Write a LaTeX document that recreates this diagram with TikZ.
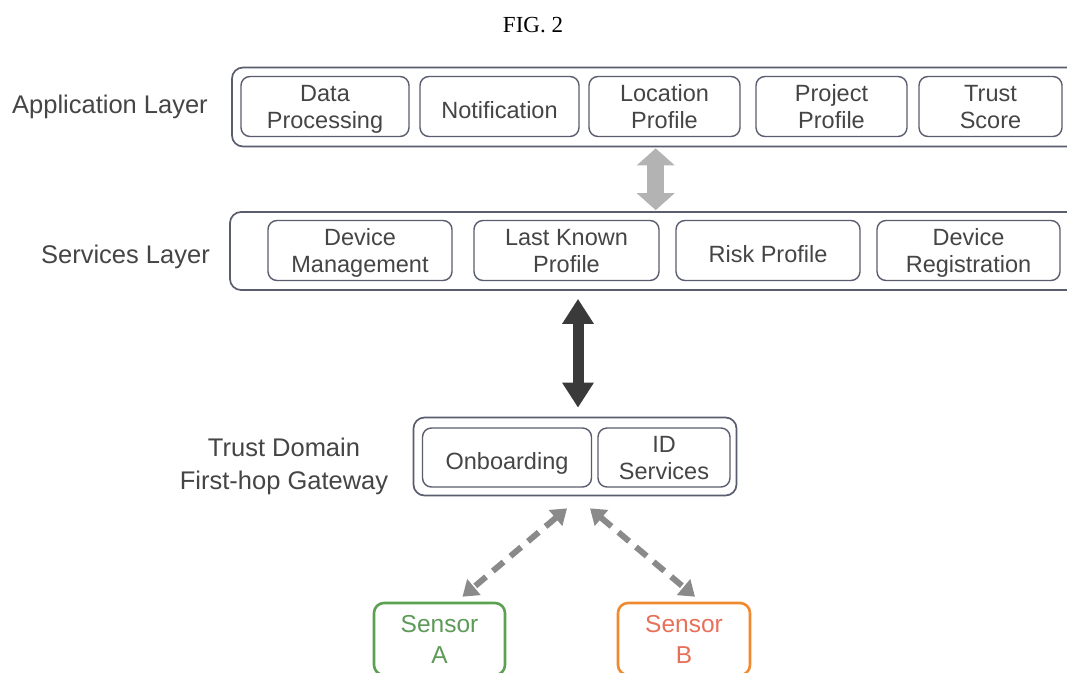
\documentclass[tikz,border=0pt]{standalone}
\usepackage{fontspec}
\setmainfont{Liberation Sans}
\newfontfamily\figfont{Liberation Serif}
\usetikzlibrary{arrows.meta,calc}
\definecolor{txt}{HTML}{454545}
\definecolor{bd}{HTML}{5A5D6E}
\definecolor{lightarr}{HTML}{B3B3B3}
\definecolor{darkarr}{HTML}{3A3A3A}
\definecolor{dasharr}{HTML}{8A8A8A}
\definecolor{sgreen}{HTML}{5CA052}
\definecolor{sgreentxt}{HTML}{5E9A58}
\definecolor{sorange}{HTML}{F08A30}
\definecolor{sorangetxt}{HTML}{E8705A}
\newcommand\twol[2]{\rule{0pt}{22pt}#1\\#2\rule[-6pt]{0pt}{6pt}}
\newcommand\onel[1]{\rule{0pt}{29pt}#1\rule[-6pt]{0pt}{6pt}}
\begin{document}
\begin{tikzpicture}[x=1pt,y=-1pt,
  innerbox/.style={draw=bd, line width=1.4pt, rounded corners=9pt, text=txt, align=center,
    font=\fontsize{23.5}{27}\selectfont, inner sep=0pt, minimum height=60pt},
  outerbox/.style={draw=bd, line width=1.7pt, rounded corners=11pt, inner sep=0pt},
  lab/.style={text=txt, font=\fontsize{25.5}{33.3}\selectfont, align=center, inner sep=0pt},
  sensorbox/.style={line width=2.6pt, rounded corners=10pt, align=center,
    font=\fontsize{24.5}{31}\selectfont, inner sep=0pt, minimum width=#1, minimum height=72pt}
]
\useasboundingbox (0,0) rectangle (1067,672);
\fill[white] (0,0) rectangle (1067,672);
\begin{scope}
\clip (0,0) rectangle (1067,672);

\node[font=\figfont\fontsize{23}{26}\selectfont, text=black] (fig) at (533,25) {FIG. 2};

% Application layer
\node[outerbox, minimum width=848pt, minimum height=79pt] (app) at (656,107) {};
\node[innerbox, minimum width=168pt] (dp) at (325,106.5) {\twol{Data}{Processing}};
\node[innerbox, minimum width=159pt] (nt) at (499.5,106.5) {\onel{Notification}};
\node[innerbox, minimum width=151pt] (lp) at (664.5,106.5) {\twol{Location}{Profile}};
\node[innerbox, minimum width=151pt] (pp) at (831.5,106.5) {\twol{Project}{Profile}};
\node[innerbox, minimum width=143pt] (ts) at (990.5,106.5) {\twol{Trust}{Score}};
\node[lab, anchor=east] (applab) at (208,107) {Application Layer};

% Services layer
\node[outerbox, minimum width=850pt, minimum height=78pt] (svc) at (655,251) {};
\node[innerbox, minimum width=184pt] (dm) at (360,250.5) {\twol{Device}{Management}};
\node[innerbox, minimum width=185pt] (lk) at (566.5,250.5) {\twol{Last Known}{Profile}};
\node[innerbox, minimum width=184pt] (rp) at (768,250.5) {\onel{Risk Profile}};
\node[innerbox, minimum width=183pt] (dr) at (968.5,250.5) {\twol{Device}{Registration}};
\node[lab, anchor=east] (svclab) at (210,257) {Services Layer};

% Trust domain
\node[outerbox, minimum width=323pt, minimum height=78pt] (td) at (575,456.5) {};
\node[innerbox, minimum height=59pt, minimum width=169pt] (ob) at (507,457.5) {\onel{Onboarding}};
\node[innerbox, minimum height=59pt, minimum width=132pt] (ids) at (664,457.5) {\twol{ID}{Services}};
\node[lab] (tdlab) at (284,466.5) {Trust Domain\\First-hop Gateway};

% Sensors
\node[sensorbox=131pt, draw=sgreen, text=sgreentxt] (sa) at (439.5,639) {Sensor\\A};
\node[sensorbox=132pt, draw=sorange, text=sorangetxt] (sb) at (684,639) {Sensor\\B};

% Arrows
\draw[lightarr, line width=17pt,
  {Triangle[width=37pt,length=17pt]}-{Triangle[width=37pt,length=17pt]}]
  ($(app.south -| lp.east)+(-85,1)$) -- ($(svc.north -| lp.east)+(-85,-1)$);
\draw[darkarr, line width=11pt,
  {Triangle[width=30pt,length=25pt]}-{Triangle[width=30pt,length=25pt]}]
  ($(svc.south -| lk.center)+(11.5,8)$) -- ($(td.north -| lk.center)+(11.5,-9)$);
\draw[dasharr, line width=6pt, dash pattern=on 14pt off 9pt,
  {Triangle[width=20pt,length=15pt]}-{Triangle[width=20pt,length=15pt]}]
  ($(td.south)+(-8,12)$) -- ($(sa.north)+(23,-5)$);
\draw[dasharr, line width=6pt, dash pattern=on 14pt off 9pt,
  {Triangle[width=20pt,length=15pt]}-{Triangle[width=20pt,length=15pt]}]
  ($(td.south)+(15,12)$) -- ($(sb.north)+(11,-5)$);
\end{scope}
\end{tikzpicture}
\end{document}
